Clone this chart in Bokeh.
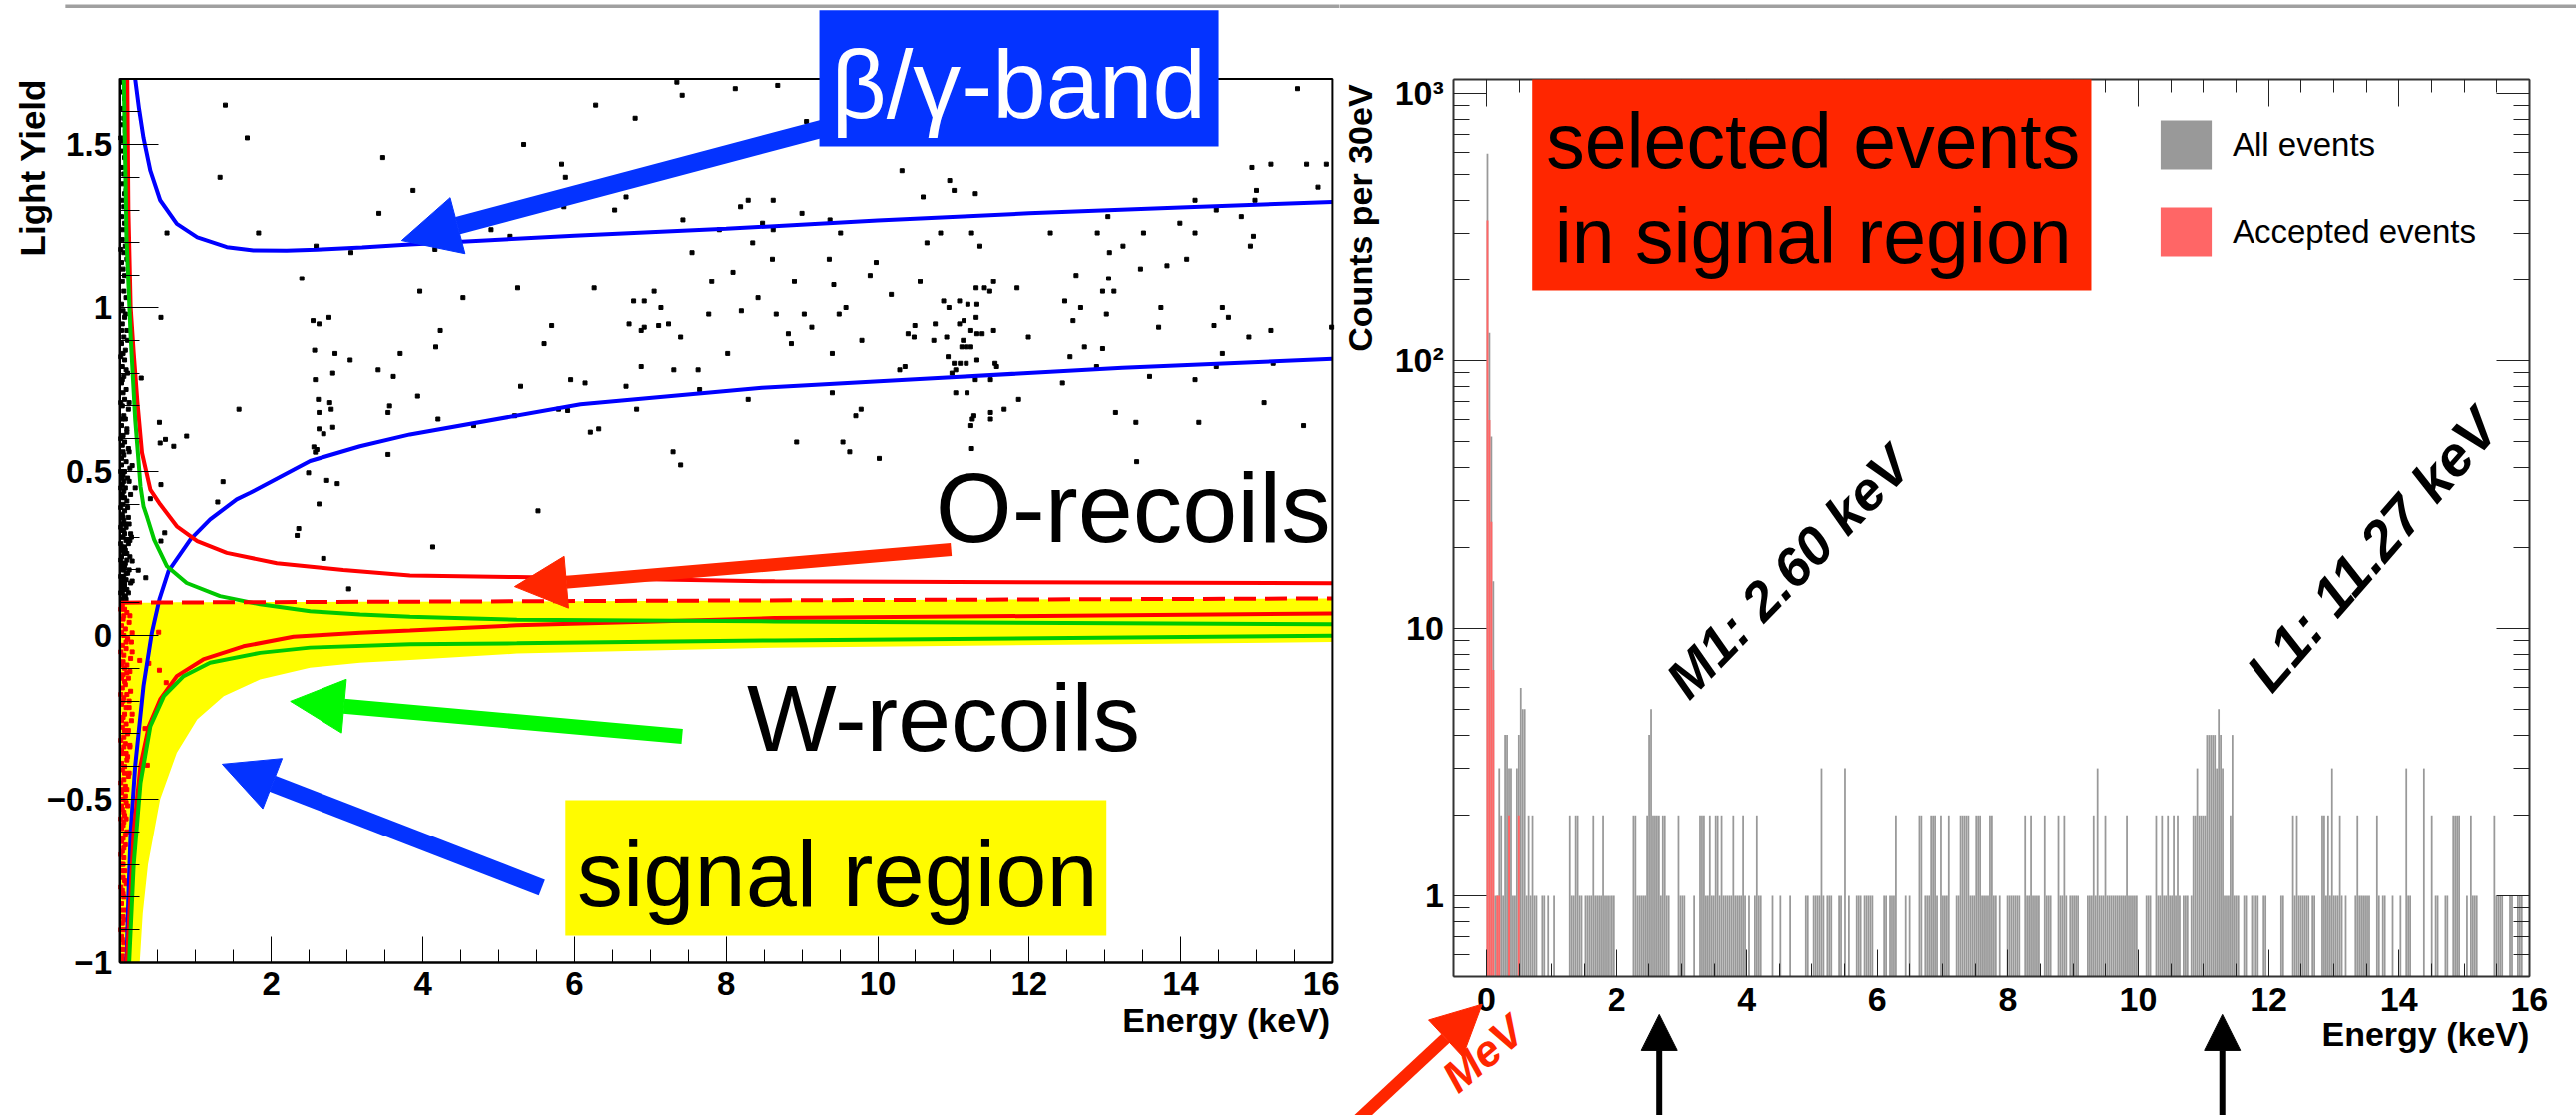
import math
from bokeh.plotting import figure
from bokeh.layouts import row
from bokeh.models import (Label, Arrow, NormalHead, BoxAnnotation, FixedTicker,
                          CustomJSTickFormatter, LinearAxis, LogAxis, Legend,
                          LegendItem, Range1d)
from bokeh.embed import file_html
from bokeh.resources import INLINE

FONT = "Liberation Sans"

# ------------------------------------------------------------------ data (left)
# events outside the signal region (energy keV, light yield)
events = [
 (7.35,1.69),(7.42,1.65),(8.12,1.67),(8.68,1.68),(6.28,1.62),(6.80,1.58),(9.06,1.57),(5.33,1.50),(15.54,1.67),
 (5.83,1.44),(5.88,1.40),(10.32,1.42),(10.95,1.39),(11.01,1.36),(11.29,1.35),(10.60,1.34),(3.87,1.36),(6.68,1.34),
 (5.86,1.31),(6.53,1.30),(8.29,1.33),(8.62,1.33),(8.19,1.31),(9.00,1.29),(9.37,1.27),(7.43,1.27),(14.94,1.43),
 (15.19,1.44),(15.66,1.44),(15.92,1.44),(15.00,1.36),(15.81,1.37),(14.19,1.33),(14.98,1.33),(14.80,1.28),(14.47,1.30),
 (13.99,1.26),(13.04,1.28),(4.90,1.24),(5.15,1.22),(4.16,1.18),(7.91,1.24),(8.48,1.26),(8.62,1.24),(9.51,1.23),
 (10.83,1.23),(11.24,1.23),(10.65,1.20),(11.35,1.19),(12.28,1.23),(12.90,1.23),(13.51,1.23),(14.19,1.23),(14.96,1.22),
 (14.92,1.19),(8.35,1.20),(7.55,1.17),(8.61,1.15),(9.36,1.15),(9.98,1.14),(13.24,1.19),(13.06,1.17),(14.08,1.15),
 (9.90,1.10),(8.09,1.11),(8.90,1.08),(9.42,1.07),(7.81,1.08),(10.56,1.08),(12.62,1.10),(13.05,1.09),(13.47,1.12),
 (13.82,1.13),(12.97,1.05),(13.12,1.05),(11.30,1.06),(11.41,1.06),(11.53,1.08),(11.48,1.05),(11.84,1.06),(3.96,1.05),
 (4.53,1.03),(5.25,1.06),(6.26,1.06),(6.78,1.02),(6.92,1.02),(7.05,1.05),(7.14,1.00),(8.42,1.03),(10.18,1.04),
 (12.47,1.02),(12.68,1.00),(13.74,1.00),(14.55,1.00),(14.63,0.97),(13.02,0.98),(12.58,0.96),(10.87,1.02),(11.08,1.02),
 (10.94,1.00),(11.19,1.01),(11.31,1.01),(8.20,0.99),(7.77,0.98),(8.66,0.98),(9.03,0.98),(9.49,0.98),(9.58,1.00),
 (6.72,0.95),(6.88,0.93),(6.92,0.94),(7.11,0.945),(7.24,0.95),(7.40,0.91),(5.70,0.945),(4.23,0.93),(4.17,0.88),
 (3.70,0.86),(5.60,0.89),(8.02,0.86),(8.82,0.92),(8.86,0.89),(9.13,0.94),(9.40,0.86),(9.79,0.90),(10.49,0.945),
 (10.76,0.95),(10.40,0.92),(10.48,0.91),(10.74,0.90),(10.91,0.91),(11.08,0.95),(11.14,0.96),(11.30,0.97),(11.23,0.93),
 (11.31,0.92),(11.38,0.92),(11.53,0.93),(11.11,0.88),(11.17,0.88),(11.23,0.88),(11.13,0.90),(11.99,0.91),(12.73,0.88),
 (12.97,0.875),(13.71,0.94),(14.44,0.945),(14.90,0.91),(15.19,0.93),(15.99,0.94),(14.55,0.86),(12.54,0.85),
 (10.93,0.85),(11.01,0.83),(11.09,0.83),(11.17,0.83),(11.31,0.84),(11.55,0.83),(11.57,0.82),(10.36,0.82),(10.29,0.81),
 (10.98,0.80),(11.03,0.81),(6.88,0.82),(7.31,0.81),(7.63,0.81),(12.89,0.82),(13.59,0.79),(14.19,0.78),(14.47,0.82),
 (15.22,0.83),(12.44,0.77),(5.29,0.76),(5.95,0.78),(6.14,0.77),(6.68,0.76),(3.93,0.73),(11.49,0.78),(11.29,0.78),
 (11.03,0.74),(11.18,0.74),(11.86,0.72),(8.29,0.72),(9.40,0.74),(7.65,0.75),(6.82,0.69),(5.79,0.69),(5.91,0.686),
 (5.21,0.67),(4.67,0.64),(4.20,0.66),(9.71,0.67),(9.78,0.69),(11.27,0.67),(11.25,0.66),(11.49,0.68),(11.49,0.66),
 (11.67,0.69),(11.23,0.64),(13.14,0.68),(13.41,0.65),(14.24,0.65),(15.62,0.64),(15.10,0.71),(6.32,0.63),(6.21,0.62),
 (8.93,0.59),(9.54,0.59),(9.63,0.56),(10.02,0.54),(11.24,0.57),(7.30,0.56),(7.40,0.52),(13.42,0.53),(5.52,0.38),
 (4.13,0.27),
 (1.39,1.62),(1.68,1.52),(3.47,1.46),(1.32,1.40),(3.42,1.29),(0.62,1.23),(1.83,1.23),(2.59,1.19),(3.05,1.17),
 (2.40,1.09),(0.54,0.97),(2.55,0.96),(2.63,0.95),(2.76,0.97),(2.57,0.87),(2.84,0.86),(3.04,0.84),(2.81,0.80),
 (2.58,0.78),(3.41,0.81),(3.61,0.79),(0.28,0.785),(2.62,0.72),(2.77,0.71),(2.79,0.69),(2.63,0.68),(3.56,0.70),
 (3.54,0.68),(1.57,0.69),(0.52,0.65),(2.63,0.63),(2.69,0.615),(2.81,0.635),(0.53,0.587),(0.60,0.598),(0.71,0.577),
 (0.88,0.608),(2.56,0.575),(2.60,0.567),(2.58,0.559),(3.54,0.552),(2.49,0.496),(2.73,0.473),(2.87,0.463),(1.36,0.469),
 (0.54,0.46),(1.29,0.407),(2.63,0.401),(0.20,0.45),(0.40,0.417),(0.16,0.518),(0.59,0.313),(0.54,0.288),(2.36,0.326),
 (2.34,0.305),(2.69,0.235),(3.02,0.142),(0.34,0.176),(0.24,0.199),(0.16,0.166),(0.16,0.227),(0.14,0.31),
 # dense low-energy column
 (0.04,1.69),(0.02,1.66),(0.06,1.64),(0.03,1.61),(0.05,1.58),(0.02,1.56),(0.07,1.54),(0.04,1.51),(0.03,1.48),
 (0.06,1.46),(0.02,1.43),(0.05,1.41),(0.04,1.38),(0.08,1.36),(0.03,1.33),(0.05,1.31),(0.02,1.28),(0.06,1.26),
 (0.04,1.24),(0.03,1.21),(0.07,1.19),(0.05,1.17),(0.02,1.14),(0.04,1.12),(0.06,1.10),(0.03,1.08),(0.05,1.05),
 (0.08,1.03),(0.02,1.01),(0.04,0.99),(0.06,0.97),(0.03,0.95),(0.09,0.93),(0.05,0.91),(0.02,0.89),(0.07,0.87),
 (0.04,0.86),(0.06,0.84),(0.03,0.82),(0.10,0.80),(0.05,0.79),(0.02,0.77),(0.08,0.75),(0.04,0.74),(0.06,0.72),
 (0.03,0.70),(0.11,0.69),(0.05,0.67),(0.07,0.66),(0.02,0.64),(0.09,0.62),(0.04,0.61),(0.06,0.59),(0.03,0.58),
 (0.12,0.56),(0.05,0.55),(0.08,0.53),(0.02,0.52),(0.06,0.50),(0.04,0.49),(0.10,0.48),(0.03,0.46),(0.07,0.45),
 (0.05,0.44),(0.02,0.42),(0.09,0.41),(0.04,0.40),(0.06,0.38),(0.03,0.37),(0.11,0.36),(0.05,0.35),(0.08,0.33),
 (0.02,0.32),(0.06,0.31),(0.04,0.30),(0.13,0.29),(0.03,0.27),(0.07,0.26),(0.05,0.25),(0.02,0.24),(0.09,0.23),
 (0.04,0.22),(0.06,0.21),(0.03,0.20),(0.10,0.19),(0.05,0.18),(0.08,0.17),(0.02,0.16),(0.06,0.15),(0.04,0.14),
 (0.03,0.13),(0.07,0.12),(0.08,1.60),(0.06,1.35),(0.09,1.15),(0.07,0.98),(0.10,0.90),(0.08,0.81),(0.12,0.71),
 (0.09,0.63),(0.11,0.57),(0.13,0.51),(0.12,0.47),(0.14,0.43),(0.10,0.39),(0.12,0.34),(0.15,0.30),(0.11,0.28),
 (0.13,0.24),(0.12,0.20),(0.14,0.16),(0.11,0.13),
 (0.01,1.52),(0.01,1.18),(0.02,0.93),(0.01,0.85),(0.03,0.78),(0.01,0.71),(0.03,0.66),(0.01,0.60),(0.04,0.56),
 (0.02,0.54),(0.01,0.50),(0.03,0.48),(0.05,0.47),(0.01,0.45),(0.03,0.43),(0.06,0.42),(0.01,0.39),(0.04,0.36),
 (0.02,0.34),(0.07,0.34),(0.01,0.33),(0.05,0.32),(0.03,0.30),(0.08,0.29),(0.01,0.28),(0.06,0.27),(0.04,0.26),
 (0.09,0.25),(0.01,0.23),(0.07,0.22),(0.02,0.21),(0.05,0.20),(0.08,0.19),(0.01,0.18),(0.04,0.17),(0.06,0.16),
 (0.03,0.15),(0.09,0.14),(0.01,0.13),(0.05,0.12),(0.02,0.11),(0.08,0.11),
]
# accepted events (inside the signal region)
accepted = [
 (0.03,0.09),(0.06,0.08),(0.09,0.07),(0.04,0.05),(0.12,0.04),(0.02,0.03),(0.07,0.02),(0.05,0.00),(0.10,-0.01),
 (0.03,-0.03),(0.08,-0.04),(0.05,-0.06),(0.14,-0.07),(0.02,-0.09),(0.06,-0.10),(0.04,-0.12),(0.11,-0.13),
 (0.07,-0.15),(0.03,-0.16),(0.09,-0.18),(0.05,-0.19),(0.02,-0.21),(0.12,-0.22),(0.06,-0.24),(0.04,-0.25),
 (0.08,-0.27),(0.03,-0.28),(0.10,-0.30),(0.05,-0.31),(0.07,-0.33),(0.02,-0.35),(0.04,-0.36),(0.09,-0.38),
 (0.06,-0.40),(0.03,-0.41),(0.11,-0.43),(0.05,-0.44),(0.07,-0.46),(0.02,-0.48),(0.04,-0.50),(0.08,-0.51),
 (0.03,-0.53),(0.06,-0.55),(0.05,-0.57),(0.02,-0.59),(0.09,-0.60),(0.04,-0.62),(0.07,-0.64),(0.03,-0.66),
 (0.05,-0.68),(0.02,-0.70),(0.06,-0.72),(0.04,-0.74),(0.08,-0.76),(0.03,-0.78),(0.05,-0.80),(0.02,-0.82),
 (0.07,-0.84),(0.04,-0.86),(0.03,-0.88),(0.06,-0.90),(0.02,-0.92),(0.05,-0.94),(0.04,-0.96),(0.03,-0.98),
 (0.13,0.06),(0.15,-0.02),(0.16,-0.05),(0.13,-0.11),(0.14,-0.17),(0.12,-0.20),(0.15,-0.26),(0.11,-0.29),
 (0.13,-0.34),(0.10,-0.37),(0.12,-0.42),(0.09,-0.47),(0.08,-0.56),(0.10,-0.52),
 (0.16,0.008),(0.51,0.01),(0.26,-0.076),(0.38,-0.085),(0.52,-0.106),(0.61,-0.144),(0.33,-0.284),(0.36,-0.396),
 (0.13,-0.335),(0.10,-0.011),(0.16,-0.24),(0.09,-0.114),
 (0.01,0.08),(0.05,0.06),(0.02,0.01),(0.08,-0.02),(0.01,-0.05),(0.04,-0.08),(0.09,-0.09),(0.02,-0.13),
 (0.06,-0.14),(0.01,-0.18),(0.04,-0.20),(0.08,-0.22),(0.02,-0.26),(0.06,-0.29),(0.01,-0.32),(0.05,-0.34),
 (0.08,-0.36),(0.02,-0.39),(0.06,-0.42),(0.01,-0.45),(0.04,-0.47),(0.07,-0.49),(0.02,-0.52),(0.05,-0.54),
 (0.01,-0.56),(0.04,-0.58),(0.07,-0.61),(0.02,-0.63),(0.05,-0.65),(0.01,-0.67),(0.04,-0.70),(0.03,-0.72),
 (0.06,-0.75),(0.01,-0.77),(0.04,-0.79),(0.02,-0.84),(0.05,-0.87),(0.01,-0.90),(0.03,-0.93),(0.02,-0.96),
 (0.04,-0.99),
]
# band curves
beta_hi_x = [0.20, 0.25, 0.31, 0.40, 0.53, 0.75, 1.02, 1.41, 1.76, 2.20, 2.60, 3.20, 3.83, 6.0, 8.0, 10.0, 12.0, 14.0, 16.0]
beta_hi_y = [1.70, 1.61, 1.52, 1.42, 1.33, 1.258, 1.217, 1.187, 1.177, 1.176, 1.179, 1.186, 1.195, 1.222, 1.243, 1.268, 1.29, 1.308, 1.325]
beta_lo_x = [0.086, 0.11, 0.14, 0.20, 0.31, 0.42, 0.52, 0.64, 0.93, 1.19, 1.54, 1.72, 2.51, 3.17, 3.83, 6.08, 8.47, 10.85, 13.23, 16.0]
beta_lo_y = [-1.0, -0.80, -0.60, -0.398, -0.154, 0.008, 0.11, 0.196, 0.293, 0.354, 0.415, 0.435, 0.532, 0.577, 0.613, 0.705, 0.755, 0.786, 0.816, 0.844]
o_hi_x = [0.095, 0.11, 0.14, 0.18, 0.23, 0.29, 0.40, 0.53, 0.75, 1.02, 1.41, 2.07, 2.95, 3.83, 5.24, 8.64, 16.0]
o_hi_y = [1.70, 1.30, 1.00, 0.862, 0.71, 0.557, 0.445, 0.40, 0.333, 0.288, 0.252, 0.22, 0.20, 0.183, 0.178, 0.165, 0.159]
o_lo_x = [0.09, 0.18, 0.27, 0.38, 0.53, 0.75, 1.10, 1.63, 2.29, 3.17, 3.83, 5.24, 8.64, 16.0]
o_lo_y = [-1.0, -0.60, -0.397, -0.277, -0.195, -0.124, -0.073, -0.033, -0.004, 0.008, 0.015, 0.031, 0.053, 0.067]
w_hi_x = [0.05, 0.085, 0.14, 0.20, 0.27, 0.31, 0.36, 0.45, 0.62, 0.88, 1.32, 1.85, 2.51, 3.17, 3.83, 5.24, 8.64, 16.0]
w_hi_y = [1.70, 1.217, 0.912, 0.66, 0.455, 0.394, 0.359, 0.292, 0.211, 0.16, 0.12, 0.095, 0.074, 0.064, 0.057, 0.048, 0.043, 0.034]
w_lo_x = [0.12, 0.18, 0.27, 0.40, 0.58, 0.84, 1.19, 1.85, 2.51, 3.83, 5.24, 8.64, 16.0]
w_lo_y = [-1.0, -0.70, -0.45, -0.277, -0.185, -0.124, -0.083, -0.053, -0.037, -0.027, -0.024, -0.015, -0.001]
cut_x = [0.0, 16.0]
cut_y = [0.100, 0.113]
sig_x = [0.0, 0.26, 0.30, 0.37, 0.53, 0.75, 1.02, 1.37, 1.85, 2.51, 3.17, 3.83, 5.24, 8.64, 16.0]
sig_lo = [-1.0, -1.0, -0.85, -0.70, -0.50, -0.358, -0.256, -0.185, -0.134, -0.098, -0.083, -0.075, -0.055, -0.037, -0.020]
sig_hi = [0.100, 0.100, 0.100, 0.100, 0.100, 0.101, 0.101, 0.101, 0.102, 0.102, 0.103, 0.103, 0.104, 0.107, 0.113]

# ------------------------------------------------------------------ data (right)
bin_width = 0.03  # keV (30 eV bins starting at 0)
all_counts = [
 596,127,52,15,1,1,3,2,1,4, 4,3,3,1,1,3,4,6,5,5, 1,2,1,2,1,1,0,0,1,1, 0,1,0,0,1,0,0,0,0,0,
 0,0,2,1,1,2,2,1,1,0, 1,1,1,1,2,1,1,1,1,2, 1,1,1,1,1,1,0,0,0,0, 0,0,0,0,0,2,2,1,1,1,
 1,1,2,4,5,2,2,2,2,1, 2,2,1,1,0,0,0,0,2,1, 1,1,0,0,0,0,1,0,0,2, 2,2,1,1,2,1,1,2,2,1,
 2,1,1,1,1,1,2,1,1,1, 1,2,1,0,1,0,0,1,2,1, 1,0,0,0,0,0,1,0,0,0, 1,0,0,0,0,1,0,0,0,0,
 0,0,0,1,1,0,0,1,1,1, 1,3,1,0,1,1,1,0,0,0, 1,1,0,3,0,1,0,0,0,1, 1,1,0,1,1,1,1,1,0,0,
 0,0,0,1,1,0,1,1,1,2, 0,0,0,0,1,0,1,0,0,0, 0,2,2,0,1,1,1,2,2,2, 1,0,2,1,1,1,2,0,0,0,
 1,1,2,2,2,2,2,1,1,1, 2,2,2,1,1,1,1,2,2,1, 1,0,1,0,0,0,1,1,1,1, 1,1,1,0,0,2,1,1,2,1,
 1,1,1,0,0,2,1,1,1,0, 0,0,2,1,1,2,1,0,1,1, 1,1,1,0,0,0,0,1,1,1, 2,1,3,1,1,1,2,1,1,1,
 1,1,1,1,1,1,1,2,1,1, 1,1,1,0,0,0,0,1,1,1, 0,0,2,1,1,2,1,1,2,1, 1,2,1,2,1,0,1,1,1,0,
 1,2,2,3,2,2,2,2,4,4, 4,4,4,3,5,4,3,1,1,1, 2,4,1,1,1,0,0,1,1,0, 0,1,1,1,1,0,0,1,1,0,
 0,0,0,0,0,0,1,1,0,0, 0,0,2,1,2,1,1,1,1,1, 1,0,1,1,0,0,0,2,2,1, 2,1,3,1,1,1,2,1,0,1,
 0,0,0,0,1,2,1,1,1,1, 1,1,0,0,0,2,1,0,1,1, 0,0,0,1,0,0,0,1,0,0, 3,1,1,0,0,0,0,0,0,3,
 0,0,0,2,0,1,1,0,0,0, 1,1,0,0,2,2,2,2,0,0, 0,1,0,2,1,1,1,0,0,0, 0,0,0,0,0,2,1,1,1,1,
 0,0,0,1,1,0,0,1,1,1, 0,0,0,0,
]
accepted_counts = [336, 60, 25, 7, 0, 1, 1, 0, 0, 0, 0, 2, 0, 0, 0, 0, 2]
line_energies = [2.66, 11.29]

# ------------------------------------------------------------------ left figure
# The frame fills the whole canvas; the axes are pinned to the plot box
# (fixed_location + bounds) so that annotations around the box are not clipped.
L = figure(width=1341, height=1117, x_range=Range1d(-1.5744, 16.0935),
           y_range=Range1d(-1.4665, 1.9390), output_backend="svg", toolbar_location=None,
           min_border=0)
L.grid.visible = False
L.outline_line_color = None
L.background_fill_color = "white"
L.border_fill_color = "white"

xa = L.xaxis[0]
xa.fixed_location = -1.0
xa.bounds = (0, 16)
xa.ticker = FixedTicker(ticks=[2, 4, 6, 8, 10, 12, 14, 16],
                        minor_ticks=[0.5 * i for i in range(1, 33)])
xa.major_tick_in = 26
xa.major_tick_out = 0
xa.minor_tick_in = 13
xa.minor_tick_out = 0
xa.major_label_standoff = 10
ya = L.yaxis[0]
ya.fixed_location = 0.0
ya.bounds = (-1, 1.7)
ya.ticker = FixedTicker(ticks=[-1, -0.5, 0, 0.5, 1, 1.5],
                        minor_ticks=[round(-1 + 0.1 * i, 1) for i in range(28)])
ya.formatter = CustomJSTickFormatter(code="return (tick < 0 ? '\u2212' : '') + String(Math.abs(tick));")
ya.major_tick_in = 39
ya.major_tick_out = 0
ya.minor_tick_in = 20
ya.minor_tick_out = 0
ya.major_label_standoff = 8
for ax in (xa, ya):
    ax.axis_line_color = "black"
    ax.axis_line_width = 2
    ax.major_tick_line_color = "black"
    ax.minor_tick_line_color = "black"
    ax.major_label_text_font = FONT
    ax.major_label_text_font_style = "bold"
    ax.major_label_text_font_size = "33px"
    ax.major_label_text_color = "black"

L.varea(x=sig_x, y1=sig_lo, y2=sig_hi, fill_color="#ffff00")
ex, ey = zip(*events)
L.scatter(list(ex), list(ey), marker="square", size=4, color="black")
ax_, ay_ = zip(*accepted)
L.scatter(list(ax_), list(ay_), marker="square", size=4, color="#ff0000")
L.line(beta_hi_x, beta_hi_y, line_color="#0000ff", line_width=4)
L.line(beta_lo_x, beta_lo_y, line_color="#0000ff", line_width=4)
L.line(o_hi_x, o_hi_y, line_color="#ff0000", line_width=4)
L.line(o_lo_x, o_lo_y, line_color="#ff0000", line_width=4)
L.line(w_hi_x, w_hi_y, line_color="#00c800", line_width=4)
L.line(w_lo_x, w_lo_y, line_color="#00c800", line_width=4)
L.line(cut_x, cut_y, line_color="#ff0000", line_width=4, line_dash="22 9")

# plot box (top and right edges)
L.add_layout(BoxAnnotation(left=0, right=16, bottom=-1, top=1.7, fill_alpha=0,
                           line_color="black", line_width=2, line_alpha=1))
# page rule at the top
L.add_layout(BoxAnnotation(left=-0.72, right=16.5, top=1.927, bottom=1.916,
                           fill_color="#a0a0a0", fill_alpha=1, line_alpha=0))

# beta/gamma annotation
L.add_layout(Arrow(x_start=9.30, y_start=1.55, x_end=3.72, y_end=1.207,
                   line_color="#0433ff", line_width=18,
                   end=NormalHead(size=58, fill_color="#0433ff", line_color="#0433ff", line_width=1)))
L.add_layout(BoxAnnotation(left=9.23, right=14.50, top=1.909, bottom=1.494,
                           fill_color="#0433ff", fill_alpha=1, line_alpha=0))
L.add_layout(Label(x=11.86, y=1.682, text="\u03b2/\u03b3-band", text_align="center",
                   text_baseline="alphabetic", text_color="white", text_font=FONT,
                   text_font_size="96px"))
# O-recoils
L.add_layout(Arrow(x_start=10.97, y_start=0.262, x_end=5.21, y_end=0.149,
                   line_color="#ff2600", line_width=13,
                   end=NormalHead(size=52, fill_color="#ff2600", line_color="#ff2600", line_width=1)))
L.add_layout(Label(x=13.37, y=0.39, text="O-recoils", text_align="center",
                   text_baseline="alphabetic", text_color="black", text_font=FONT,
                   text_font_size="99px"))
# W-recoils
L.add_layout(Arrow(x_start=7.42, y_start=-0.308, x_end=2.25, y_end=-0.201,
                   line_color="#00f900", line_width=15,
                   end=NormalHead(size=54, fill_color="#00f900", line_color="#00f900", line_width=1)))
L.add_layout(Label(x=10.87, y=-0.252, text="W-recoils", text_align="center",
                   text_baseline="alphabetic", text_color="black", text_font=FONT,
                   text_font_size="95px"))
# signal region
L.add_layout(Arrow(x_start=5.57, y_start=-0.771, x_end=1.35, y_end=-0.393,
                   line_color="#0433ff", line_width=17,
                   end=NormalHead(size=54, fill_color="#0433ff", line_color="#0433ff", line_width=1)))
L.add_layout(BoxAnnotation(left=5.88, right=13.02, top=-0.503, bottom=-0.918,
                           fill_color="#fffb00", fill_alpha=1, line_alpha=0))
L.add_layout(Label(x=9.47, y=-0.730, text="signal region", text_align="center",
                   text_baseline="alphabetic", text_color="black", text_font=FONT,
                   text_font_size="92px"))
# axis titles
L.add_layout(Label(x=-1.148, y=1.70, text="Light Yield", angle=math.pi / 2,
                   text_align="right", text_baseline="alphabetic", text_font=FONT,
                   text_font_style="bold", text_font_size="35px", text_color="black"))
L.add_layout(Label(x=15.97, y=-1.175, text="Energy (keV)", text_align="right",
                   text_baseline="alphabetic", text_font=FONT, text_font_style="bold",
                   text_font_size="34px", text_color="black"))

# ------------------------------------------------------------------ right figure
R = figure(width=1239, height=1117, x_range=Range1d(-2.2511, 16.7228),
           y_range=Range1d(0.1510, 2223), y_axis_type="log", output_backend="svg",
           toolbar_location=None, min_border=0)
R.grid.visible = False
R.outline_line_color = None
R.background_fill_color = "white"
R.border_fill_color = "white"

BOX_TOP = 1127.6
x_major = [0, 2, 4, 6, 8, 10, 12, 14, 16]
x_minor = [-0.5 + 0.5 * i for i in range(34)]
y_major = [1, 10, 100, 1000]
y_minor = [0.6, 0.7, 0.8, 0.9, 2, 3, 4, 5, 6, 7, 8, 9, 20, 30, 40, 50, 60, 70, 80, 90,
           200, 300, 400, 500, 600, 700, 800, 900]
log_fmt = CustomJSTickFormatter(code="""
const m = {1: '1', 10: '10', 100: '10\u00b2', 1000: '10\u00b3'};
const k = Math.round(tick);
return (k in m) ? m[k] : '';
""")
blank = CustomJSTickFormatter(code="return '';")

rx = R.xaxis[0]
rx.fixed_location = 0.5
rx.bounds = (-0.5, 16)
rx.ticker = FixedTicker(ticks=x_major, minor_ticks=x_minor)
rx.major_tick_in = 27
rx.minor_tick_in = 13
rx.major_label_standoff = 12
ry = R.yaxis[0]
ry.fixed_location = -0.5
ry.bounds = (0.5, BOX_TOP)
ry.ticker = FixedTicker(ticks=y_major, minor_ticks=y_minor)
ry.formatter = log_fmt
ry.major_tick_in = 33
ry.minor_tick_in = 16
ry.major_label_standoff = 10
top_ax = LinearAxis(ticker=FixedTicker(ticks=x_major, minor_ticks=x_minor), formatter=blank,
                    major_tick_in=27, minor_tick_in=13, fixed_location=BOX_TOP, bounds=(-0.5, 16))
right_ax = LogAxis(ticker=FixedTicker(ticks=y_major, minor_ticks=y_minor), formatter=blank,
                   major_tick_in=33, minor_tick_in=16, fixed_location=16, bounds=(0.5, BOX_TOP))
R.add_layout(top_ax, "above")
R.add_layout(right_ax, "right")
for ax in (rx, ry, top_ax, right_ax):
    ax.major_tick_out = 0
    ax.minor_tick_out = 0
    ax.axis_line_color = "#333333"
    ax.axis_line_width = 2
    ax.major_tick_line_color = "#222222"
    ax.minor_tick_line_color = "#222222"
    ax.major_label_text_font = FONT
    ax.major_label_text_font_style = "bold"
    ax.major_label_text_font_size = "34px"
    ax.major_label_text_color = "black"

centers = [bin_width * (i + 0.5) for i in range(len(all_counts))]
nz = [i for i, c in enumerate(all_counts) if c > 0]
g_all = R.vbar(x=[centers[i] for i in nz], top=[all_counts[i] for i in nz], bottom=0.5,
               width=0.027, fill_color="#999999", line_color=None)
nza = [i for i, c in enumerate(accepted_counts) if c > 0]
g_acc = R.vbar(x=[centers[i] for i in nza], top=[accepted_counts[i] for i in nza], bottom=0.5,
               width=bin_width, fill_color="#ff6666", line_color=None)

legend = Legend(items=[LegendItem(label="All events", renderers=[g_all]),
                       LegendItem(label="Accepted events", renderers=[g_acc])],
                location=(816, 855), glyph_width=64, glyph_height=61, spacing=26,
                padding=0, margin=0, label_standoff=15, label_text_font=FONT,
                label_text_font_size="33px", label_text_color="black",
                border_line_alpha=0, background_fill_alpha=0)
R.add_layout(legend)

R.add_layout(BoxAnnotation(left=-2.3, right=16.8, top=2148, bottom=2084,
                           fill_color="#a0a0a0", fill_alpha=1, line_alpha=0))
R.add_layout(BoxAnnotation(left=0.70, right=9.28, top=BOX_TOP, bottom=182.5,
                           fill_color="#ff2600", fill_alpha=1, line_alpha=0))
R.add_layout(Label(x=5.01, y=664, text="selected events", text_align="center",
                   text_baseline="alphabetic", text_font=FONT, text_font_size="77px",
                   text_color="black"))
R.add_layout(Label(x=5.01, y=293.6, text="in signal region", text_align="center",
                   text_baseline="alphabetic", text_font=FONT, text_font_size="77px",
                   text_color="black"))
R.add_layout(Label(x=2.91, y=5.97, text="M1: 2.60 keV", angle=math.radians(46),
                   text_align="left", text_baseline="alphabetic", text_font=FONT,
                   text_font_style="bold italic", text_font_size="54px", text_color="black"))
R.add_layout(Label(x=11.83, y=6.3, text="L1: 11.27 keV", angle=math.radians(49),
                   text_align="left", text_baseline="alphabetic", text_font=FONT,
                   text_font_style="bold italic", text_font_size="56px", text_color="black"))
for e in line_energies:
    R.add_layout(Arrow(x_start=e, y_start=0.13, x_end=e, y_end=0.36, line_color="black",
                       line_width=6, end=NormalHead(size=36, fill_color="black",
                                                    line_color="black", line_width=1)))
R.add_layout(Arrow(x_start=-2.11, y_start=0.135, x_end=-0.066, y_end=0.393,
                   line_color="#ff2600", line_width=12,
                   end=NormalHead(size=50, fill_color="#ff2600", line_color="#ff2600", line_width=1)))
R.add_layout(Label(x=0.475, y=0.330, text="MeV", angle=math.radians(40), text_align="right",
                   text_baseline="alphabetic", text_font=FONT, text_font_style="bold italic",
                   text_font_size="44px", text_color="#ff2600"))
R.add_layout(Label(x=-1.94, y=1081, text="Counts per 30eV", angle=math.pi / 2,
                   text_align="right", text_baseline="alphabetic", text_font=FONT,
                   text_font_style="bold", text_font_size="34px", text_color="black"))
R.add_layout(Label(x=16.0, y=0.303, text="Energy (keV)", text_align="right",
                   text_baseline="alphabetic", text_font=FONT, text_font_style="bold",
                   text_font_size="34px", text_color="black"))

page = row(L, R)
with open("out.html", "w") as f:
    f.write(file_html(page, INLINE))
